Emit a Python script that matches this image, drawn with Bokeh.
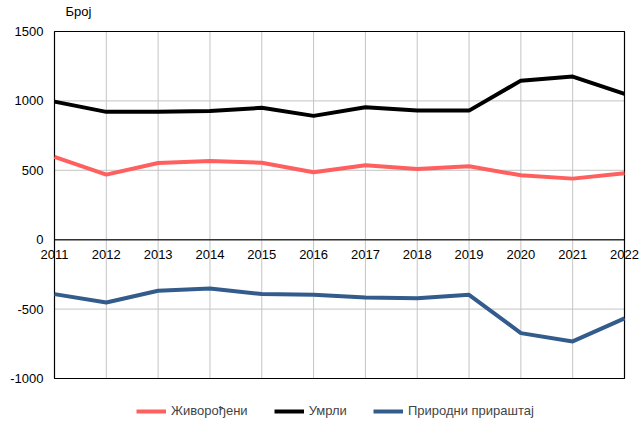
from bokeh.plotting import figure
from bokeh.models import Legend, LegendItem, ColumnDataSource, Range1d
from bokeh.core.properties import value
from bokeh.embed import file_html
from bokeh.resources import INLINE

years = [2011, 2012, 2013, 2014, 2015, 2016, 2017, 2018, 2019, 2020, 2021, 2022]
year_labels = [str(y) for y in years]
births = [596, 469, 553, 567, 555, 486, 536, 509, 529, 464, 440, 478]
deaths = [995, 921, 921, 928, 950, 892, 954, 930, 930, 1146, 1175, 1050]
natural = [-392, -452, -368, -351, -392, -397, -416, -421, -397, -673, -733, -567]
y_ticks = [-1000, -500, 0, 500, 1000, 1500]
y_labels = [str(v) for v in y_ticks]
axis_title = "Број"
series_names = ["Живорођени", "Умрли", "Природни прираштај"]

FONT = "Liberation Sans"
W, H = 641, 421
# plot box inside the canvas (pixels)
BL, BR, BT, BB = 54, 624, 31, 378

x0, x1 = years[0], years[-1]
y0, y1 = y_ticks[0], y_ticks[-1]
sx = (BR - BL) / (x1 - x0)
sy = (BB - BT) / (y1 - y0)

p = figure(width=W, height=H, output_backend="svg", toolbar_location=None,
           x_range=Range1d(x0 - BL / sx, x1 + (W - BR) / sx),
           y_range=Range1d(y0 - (H - BB) / sy, y1 + BT / sy),
           min_border=0, outline_line_color=None)
p.axis.visible = False
p.grid.visible = False
p.background_fill_color = "white"
p.border_fill_color = "white"

# grid lines
p.segment(x0=years, y0=[y0] * len(years), x1=years, y1=[y1] * len(years),
          line_color="#c4c4c4", line_width=1)
p.segment(x0=[x0] * len(y_ticks), y0=y_ticks, x1=[x1] * len(y_ticks), y1=y_ticks,
          line_color="#c4c4c4", line_width=1)
# zero line
p.segment(x0=[x0], y0=[0], x1=[x1], y1=[0], line_color="#333333", line_width=1.5)
# frame
p.quad(left=[x0], right=[x1], bottom=[y0], top=[y1], fill_color=None,
       line_color="black", line_width=1.2)

# tick labels
p.text(x=[x0] * len(y_ticks), y=y_ticks, text=y_labels, x_offset=-11,
       text_align="right", text_baseline="middle",
       text_font=value(FONT), text_font_size="13px", text_color="black")
p.text(x=years, y=[0] * len(years), text=year_labels, y_offset=10,
       text_align="center", text_baseline="top",
       text_font=value(FONT), text_font_size="13px", text_color="black")
p.text(x=[x0], y=[y1], text=[axis_title], x_offset=11, y_offset=-13,
       text_align="left", text_baseline="bottom",
       text_font=value(FONT), text_font_size="13px", text_color="black")

src = ColumnDataSource(dict(x=years, b=births, d=deaths, n=natural))
r1 = p.line("x", "b", source=src, line_color="#FF5F5F", line_width=4)
r2 = p.line("x", "d", source=src, line_color="black", line_width=4)
r3 = p.line("x", "n", source=src, line_color="#335C8C", line_width=4)

legend = Legend(items=[LegendItem(label=series_names[0], renderers=[r1]),
                       LegendItem(label=series_names[1], renderers=[r2]),
                       LegendItem(label=series_names[2], renderers=[r3])],
                orientation="horizontal", location=(136, 3),
                label_text_font=FONT, label_text_font_size="13px",
                label_height=12, glyph_height=12,
                glyph_width=30, spacing=26, border_line_color=None,
                background_fill_alpha=0, padding=0, margin=0, label_standoff=5)
p.add_layout(legend)

open("out.html", "w").write(file_html(p, INLINE))
